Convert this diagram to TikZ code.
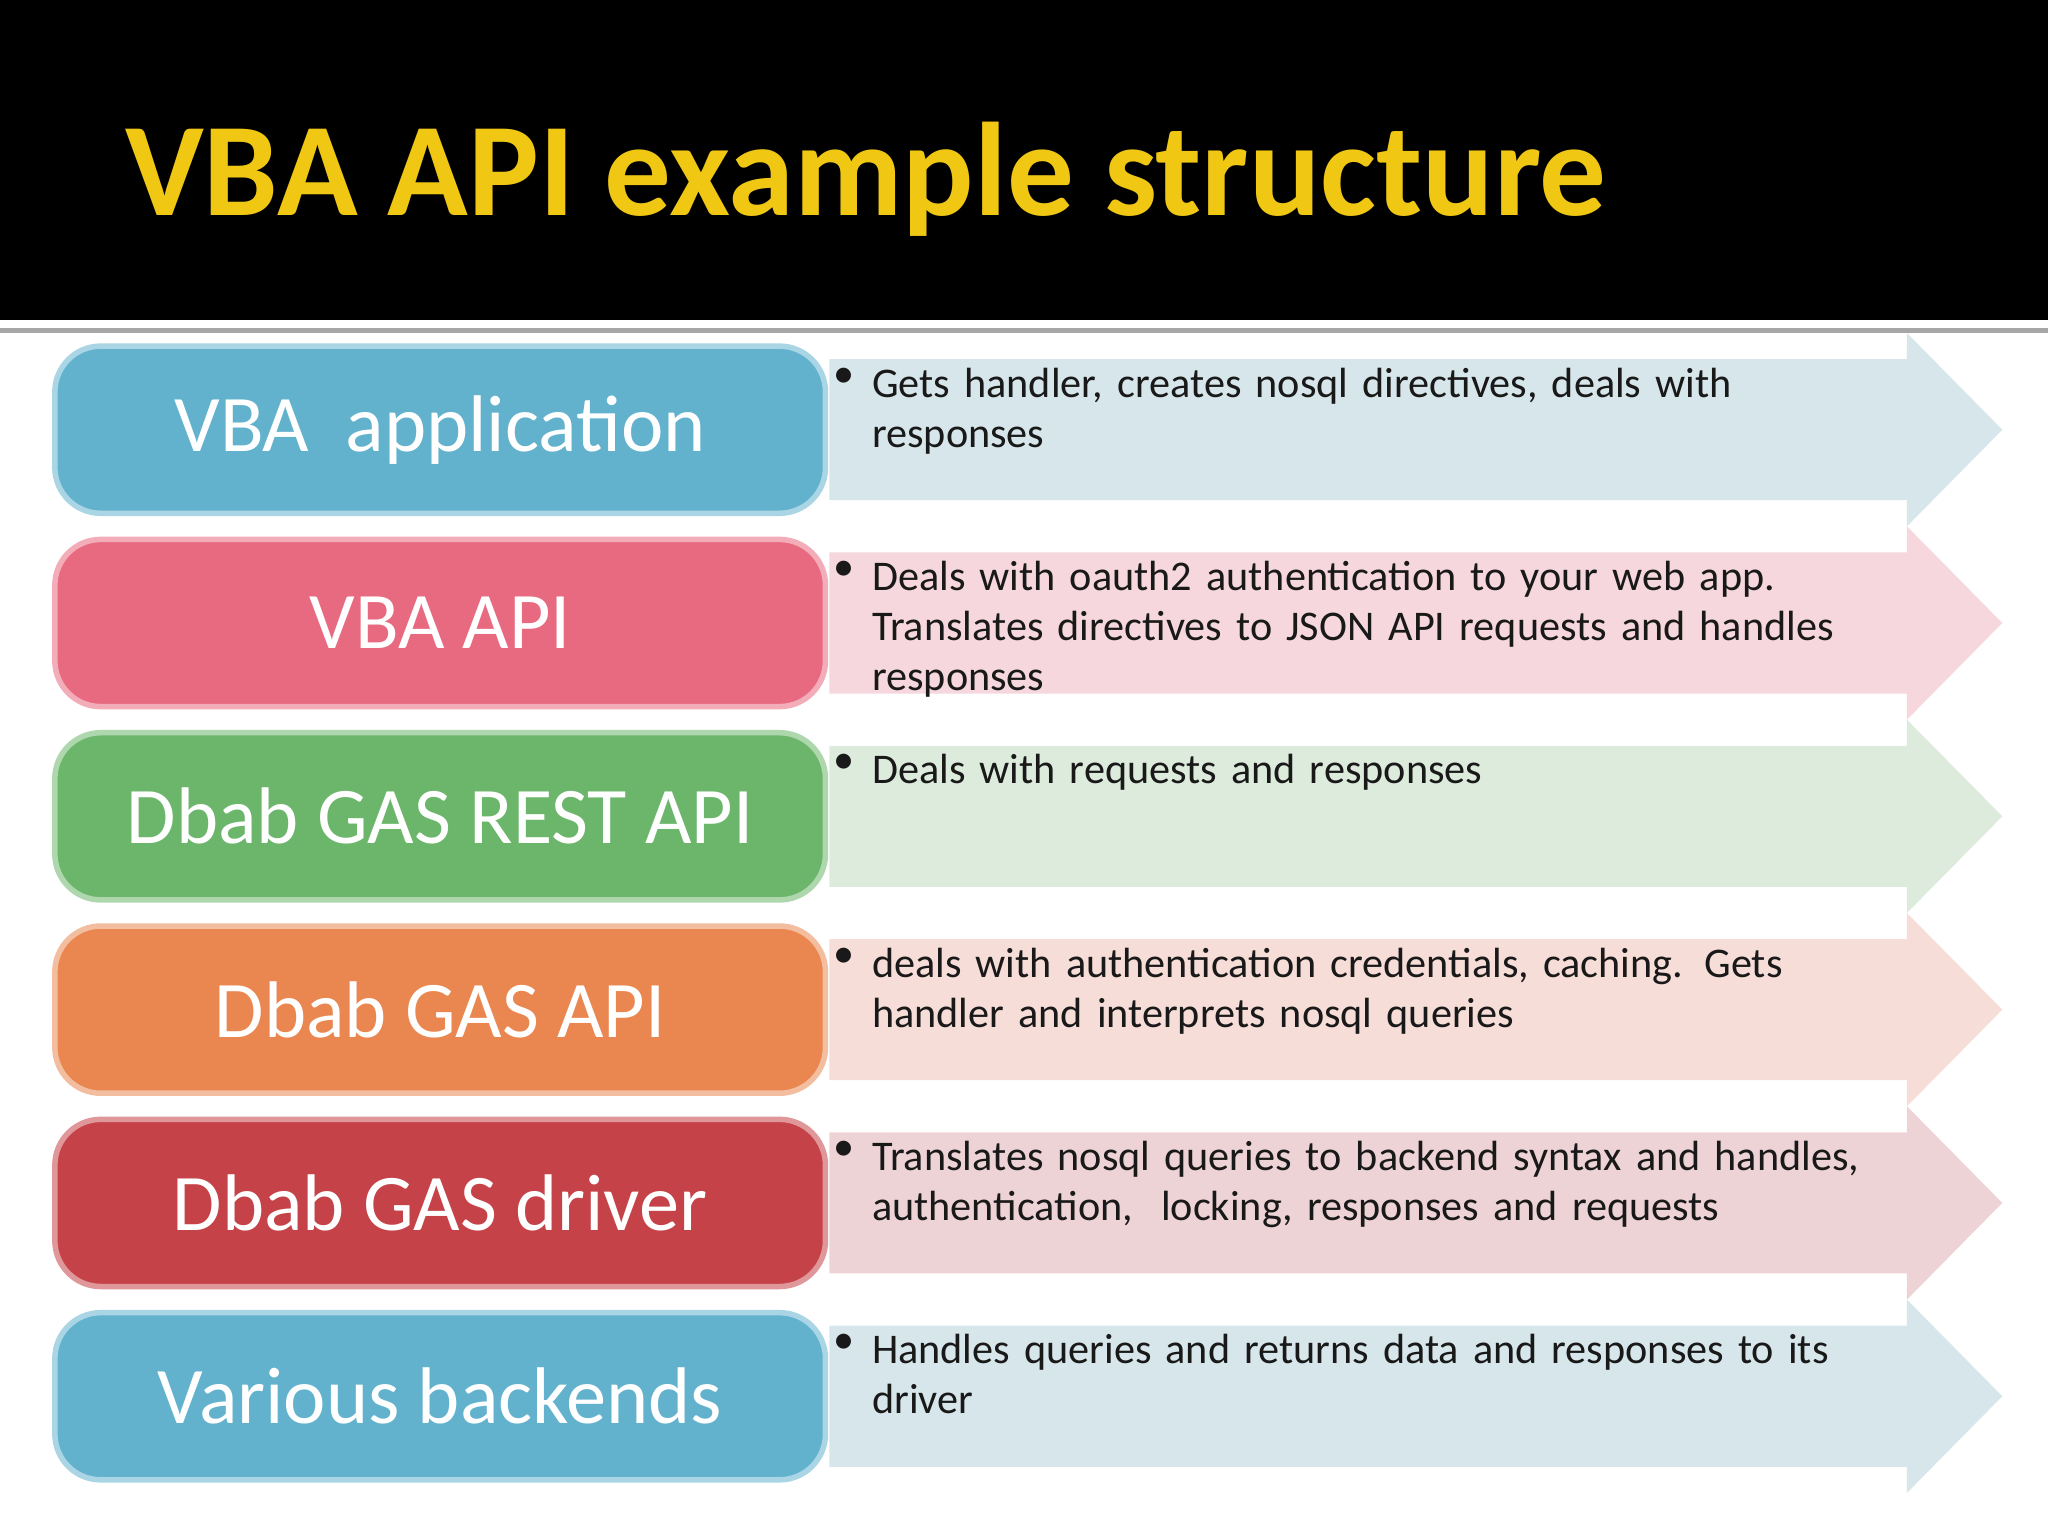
\documentclass[tikz,border=0pt]{standalone}
\usepackage{fontspec}
\setmainfont{Carlito}
\usetikzlibrary{positioning}
\definecolor{titleYellow}{RGB}{240,200,20}
\definecolor{layerBlue}{RGB}{98,178,206}
\definecolor{layerPink}{RGB}{232,106,128}
\definecolor{layerGreen}{RGB}{108,182,108}
\definecolor{layerOrange}{RGB}{234,135,80}
\definecolor{layerRed}{RGB}{197,66,72}
\definecolor{noteBlue}{RGB}{215,230,235}
\definecolor{notePink}{RGB}{245,215,221}
\definecolor{noteGreen}{RGB}{220,235,220}
\definecolor{notePeach}{RGB}{246,221,215}
\definecolor{noteRed}{RGB}{238,211,214}
\definecolor{noteText}{RGB}{25,25,25}

\tikzset{
  layer/.style={draw=#1!55, line width=1.2pt, fill=#1, rounded corners=10pt,
    minimum width=5.9cm, minimum height=1.28cm, text=white,
    font=\fontsize{17.5}{20}\selectfont},
  note/.style={anchor=north west, text width=8.3cm, align=left, inner sep=0pt,
    text=noteText, font=\fontsize{9.2}{10.9}\selectfont},
  dot/.style={anchor=north, inner sep=0pt, text=noteText, font=\fontsize{9.2}{10.9}\selectfont}
}

\begin{document}
\begin{tikzpicture}
\useasboundingbox (0,0) rectangle (15.68,-11.76);

% Title band
\fill[black] (0,0) rectangle (15.68,-2.45);
\draw[gray!70, line width=1pt] (0,-2.53) -- (15.68,-2.53);
\node[titleYellow, anchor=base west, inner sep=0pt, font=\fontsize{29}{32}\selectfont\bfseries] (title) at (0.95,-1.65) {VBA API example structure};

% Layers with their notes
\foreach \i/\name/\col/\ncol/\label/\txt in {
  0/app/layerBlue/noteBlue/{VBA\ \ application}/{Gets handler, creates nosql directives, deals with\\responses},
  1/vbaapi/layerPink/notePink/{VBA API}/{Deals with oauth2 authentication to your web app.\\Translates directives to JSON API requests and handles\\responses},
  2/rest/layerGreen/noteGreen/{Dbab GAS REST API}/{Deals with requests and responses},
  3/gasapi/layerOrange/notePeach/{Dbab GAS API}/{deals with authentication credentials, caching. Gets\\handler and interprets nosql queries},
  4/driver/layerRed/noteRed/{Dbab GAS driver}/{Translates nosql queries to backend syntax and handles,\\authentication,\ \ locking, responses and requests},
  5/backends/layerBlue/noteBlue/{Various backends}/{Handles queries and returns data and responses to its\\driver}} {
  \pgfmathsetmacro{\top}{-2.65-1.48*\i}
  % arrow behind the note
  \fill[\ncol] (6.35,\top-0.1) -- (14.6,\top-0.1) -- (14.6,\top+0.1) -- (15.33,\top-0.64)
    -- (14.6,\top-1.38) -- (14.6,\top-1.18) -- (6.35,\top-1.18) -- cycle;
  \node[layer=\col] (\name) at (3.37,\top-0.64) {\label};
  \node[dot] (\name-dot) at (6.46,\top-0.16) {\textbullet};
  \node[note] (\name-note) at (6.67,\top-0.16) {\txt};
}
\end{tikzpicture}
\end{document}
